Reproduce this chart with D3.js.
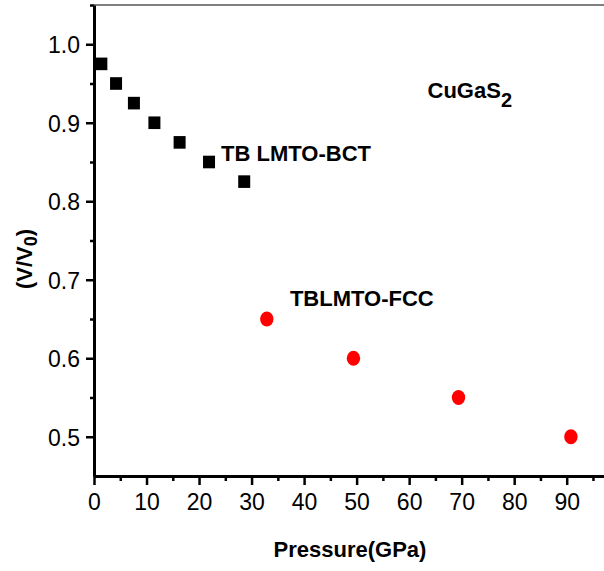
<!DOCTYPE html>
<html>
<head>
<meta charset="utf-8">
<script src="https://cdn.jsdelivr.net/npm/d3@7"></script>
<style>
	body { margin: 0; background: #fff; }
	svg text { font-family: Arial, "Liberation Sans", sans-serif; fill: #000; }
	.axis path, .axis line { stroke: #000; }
	.axis text { font-size: 23px; }
</style>
</head>
<body>
<svg id="chart" width="604" height="571"></svg>
<script>
// TB LMTO, BCT phase
var bctPressure = [1.4, 4.2, 7.6, 11.5, 16.3, 21.9, 28.6]
var bctVolume = [0.975, 0.95, 0.925, 0.9, 0.875, 0.85, 0.825]

// TB LMTO, FCC phase
var fccPressure = [32.9, 49.4, 69.4, 90.8]
var fccVolume = [0.65, 0.6, 0.55, 0.5]

var xTicks = [0, 10, 20, 30, 40, 50, 60, 70, 80, 90]
var xMinor = [5, 15, 25, 35, 45, 55, 65, 75, 85, 95]
var yTicks = [0.5, 0.6, 0.7, 0.8, 0.9, 1.0]
var yMinor = [0.55, 0.65, 0.75, 0.85, 0.95, 1.05]

var svg = d3.select("#chart"),
	margin = { top: 5, right: 0, bottom: 95, left: 94 },
	width = 604 - margin.left - margin.right,
	height = 571 - margin.top - margin.bottom;

var x = d3.scaleLinear().domain([0, 97.1]).range([0, width]);
var y = d3.scaleLinear().domain([0.45, 1.05]).range([height, 0]);

var g = svg.append("g")
	.attr("transform", "translate(" + margin.left + "," + margin.top + ")");

// thin frame line on top
g.append("line")
	.attr("x1", 0).attr("x2", width)
	.attr("y1", 0).attr("y2", 0)
	.style("stroke", "#555")
	.style("stroke-width", 1.6);

// minor ticks
g.append("g")
	.attr("class", "axis")
	.attr("transform", "translate(0," + height + ")")
	.call(d3.axisBottom(x).tickValues(xMinor).tickSize(5).tickSizeOuter(0).tickFormat(""))
	.call(function (a) { a.select(".domain").remove() })
	.selectAll("line").style("stroke-width", 2.5);

g.append("g")
	.attr("class", "axis")
	.call(d3.axisLeft(y).tickValues(yMinor).tickSize(4).tickSizeOuter(0).tickFormat(""))
	.call(function (a) { a.select(".domain").remove() })
	.selectAll("line").style("stroke-width", 2.5);

// major axes
var xAxis = g.append("g")
	.attr("class", "x axis")
	.attr("transform", "translate(0," + height + ")")
	.call(d3.axisBottom(x).tickValues(xTicks).tickSize(9).tickSizeOuter(0).tickPadding(9).tickFormat(d3.format("d")));

xAxis.select(".domain").style("stroke-width", 3);
xAxis.selectAll(".tick line").style("stroke-width", 2.5);

var yAxis = g.append("g")
	.attr("class", "y axis")
	.call(d3.axisLeft(y).tickValues(yTicks).tickSize(8).tickSizeOuter(0).tickPadding(6).tickFormat(d3.format(".1f")));

yAxis.select(".domain").style("stroke-width", 3);
yAxis.selectAll(".tick line").style("stroke-width", 2.5);
yAxis.selectAll(".tick text").attr("dy", "0.36em");

// data
var bct = bctPressure.map(function (p, i) { return { p: p, v: bctVolume[i] } })
var fcc = fccPressure.map(function (p, i) { return { p: p, v: fccVolume[i] } })

g.selectAll(".bct")
	.data(bct)
	.enter()
	.append("rect")
	.attr("class", "bct")
	.attr("x", function (d) { return x(d.p) - 6 })
	.attr("y", function (d) { return y(d.v) - 6.3 })
	.attr("width", 12)
	.attr("height", 12.6)
	.style("fill", "#000");

g.selectAll(".fcc")
	.data(fcc)
	.enter()
	.append("ellipse")
	.attr("class", "fcc")
	.attr("cx", function (d) { return x(d.p) })
	.attr("cy", function (d) { return y(d.v) })
	.attr("rx", 6.7)
	.attr("ry", 7.4)
	.style("fill", "#ff0000");

// annotations
g.append("text")
	.attr("x", x(24.2))
	.attr("y", y(0.851))
	.style("font-size", "22px")
	.style("font-weight", "bold")
	.text("TB LMTO-BCT");

g.append("text")
	.attr("x", x(37.3))
	.attr("y", y(0.6666))
	.style("font-size", "22px")
	.style("font-weight", "bold")
	.text("TBLMTO-FCC");

var formula = g.append("text")
	.attr("x", x(63.5))
	.attr("y", y(0.932))
	.style("font-size", "22px")
	.style("font-weight", "bold");
formula.append("tspan").text("CuGaS");
formula.append("tspan").attr("dy", 9).style("font-size", "20px").text("2");

// axis titles
svg.append("text")
	.attr("x", 350)
	.attr("y", 557)
	.attr("text-anchor", "middle")
	.style("font-size", "22px")
	.style("font-weight", "bold")
	.text("Pressure(GPa)");

var ylab = svg.append("text")
	.attr("transform", "translate(32,259) rotate(-90)")
	.attr("text-anchor", "middle")
	.style("font-size", "22px")
	.style("font-weight", "bold");
ylab.append("tspan").text("(V/V");
ylab.append("tspan").attr("dy", 5).style("font-size", "18px").text("0");
ylab.append("tspan").attr("dy", -5).text(")");
</script>
</body>
</html>
